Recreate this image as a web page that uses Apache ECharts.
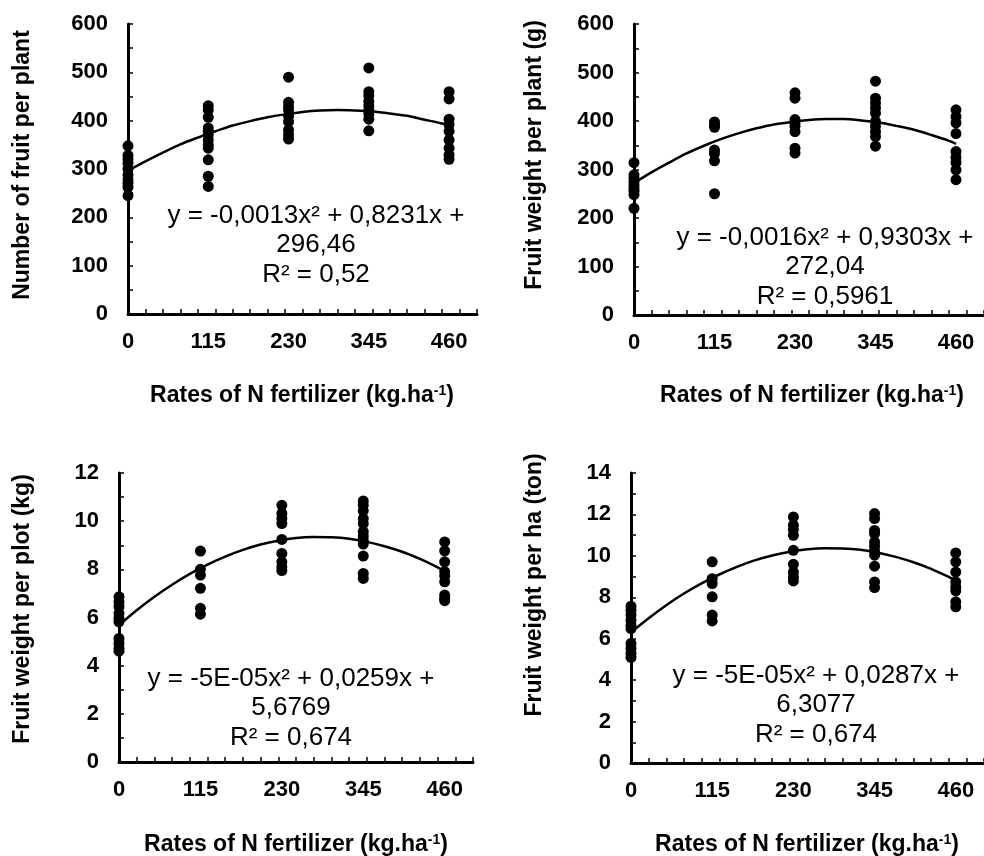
<!DOCTYPE html>
<html>
<head>
<meta charset="utf-8">
<title>N fertilizer response</title>
<script src="https://cdn.jsdelivr.net/npm/echarts@6/dist/echarts.min.js"></script>
<style>
  html, body { margin: 0; padding: 0; background: #fff; }
  #chart { width: 984px; height: 856px; }
</style>
</head>
<body>
<div id="chart"></div>
<script>
// rates of N fertilizer (kg/ha), also used as x tick labels
const nRates = [0, 115, 230, 345, 460];
const xTicks = [25, 50, 75, 100, 125, 150, 175, 200, 225, 250, 275, 300, 325, 350, 375, 400, 425, 450, 475, 500];

// observed values, one list per rate
const fruitNumber = [
  [348, 328, 320, 312, 300, 288, 278, 270, 262, 245],
  [431, 422, 407, 385, 378, 371, 360, 350, 343, 319, 285, 264],
  [490, 438, 429, 422, 409, 398, 381, 371, 362],
  [509, 460, 452, 440, 431, 422, 414, 403, 379],
  [460, 445, 403, 392, 378, 360, 343, 329, 320]
];
const weightPlant = [
  [314, 289, 282, 275, 268, 261, 255, 248, 220],
  [398, 392, 387, 340, 333, 318, 250],
  [458, 447, 403, 396, 389, 378, 344, 334],
  [482, 447, 437, 427, 416, 399, 389, 378, 368, 348],
  [423, 409, 396, 374, 337, 325, 314, 299, 279]
];
const weightPlot = [
  [6.86, 6.65, 6.45, 6.17, 5.96, 5.82, 5.13, 4.92, 4.72, 4.6],
  [8.76, 8.0, 7.76, 7.21, 6.38, 6.14],
  [10.66, 10.32, 10.11, 9.9, 9.24, 8.66, 8.31, 8.1, 7.95],
  [10.84, 10.66, 10.43, 10.11, 9.9, 9.56, 9.38, 9.21, 9.05, 8.55, 7.83, 7.62],
  [9.14, 8.77, 8.31, 7.9, 7.72, 7.48, 6.93, 6.79, 6.7]
];
const weightHa = [
  [7.57, 7.38, 7.14, 6.89, 6.65, 6.49, 5.77, 5.53, 5.29, 5.1],
  [9.71, 8.9, 8.66, 8.02, 7.14, 6.86],
  [11.88, 11.48, 11.27, 10.99, 10.27, 9.59, 9.22, 8.98, 8.79],
  [12.04, 11.8, 11.23, 11.07, 10.67, 10.46, 10.24, 10.03, 9.5, 8.74, 8.47],
  [10.14, 9.71, 9.22, 8.74, 8.5, 8.31, 7.78, 7.54]
];

// trend lines
const fitX = [0, 25, 50, 75, 100, 125, 150, 175, 200, 225, 250, 275, 300, 325, 350, 375, 400, 425, 450, 460];
const fruitNumberFit = [297, 316, 334, 351, 365, 378, 390, 399, 407, 413, 418, 421, 422, 421, 419, 415, 410, 402, 394, 390];
const weightPlantFit = [272, 294, 314, 333, 349, 363, 375, 385, 393, 398, 402, 404, 404, 401, 397, 390, 382, 371, 359, 353];
const weightPlotFit = [5.68, 6.3, 6.86, 7.36, 7.81, 8.2, 8.53, 8.81, 9.03, 9.19, 9.3, 9.34, 9.33, 9.27, 9.14, 8.96, 8.73, 8.43, 8.08, 7.92];
const weightHaFit = [6.31, 6.99, 7.62, 8.18, 8.67, 9.1, 9.47, 9.78, 10.02, 10.2, 10.32, 10.37, 10.36, 10.29, 10.15, 9.95, 9.69, 9.37, 8.98, 8.8];

const yTitles = ["Number of fruit per plant", "Fruit weight per plant (g)", "Fruit weight per plot (kg)", "Fruit weight per ha (ton)"];
const equations = [
  ["y = -0,0013x² + 0,8231x +", "296,46", "R² = 0,52"],
  ["y = -0,0016x² + 0,9303x +", "272,04", "R² = 0,5961"],
  ["y = -5E-05x² + 0,0259x +", "5,6769", "R² = 0,674"],
  ["y = -5E-05x² + 0,0287x +", "6,3077", "R² = 0,674"]
];
const yMax = [600, 600, 12, 14];
const yStep = [100, 100, 2, 2];

const FONT = "'Liberation Sans', Arial, sans-serif";
const panels = [fruitNumber, weightPlant, weightPlot, weightHa];
const fits = [fruitNumberFit, weightPlantFit, weightPlotFit, weightHaFit];

// panel geometry
const grids = [
  { left: 128, top: 24, width: 349, height: 290 },
  { left: 634, top: 24, width: 354, height: 291 },
  { left: 119, top: 473, width: 354, height: 289 },
  { left: 631, top: 473, width: 356, height: 290 }
];
const yTitlePos = [[23, 165], [535, 155], [23, 609], [535, 585]];
const xTitlePos = [[302, 396], [812, 396], [296, 845], [807, 845]];
const eqPos = [[316, 245], [825, 267], [291, 708], [816, 705]];

const axisStyle = { color: "#000", width: 3 };

const xAxes = grids.map((g, i) => ({
  type: "value",
  gridIndex: i,
  min: 0,
  max: 500,
  interval: 25,
  axisLine: { show: true, onZero: false, lineStyle: axisStyle },
  axisTick: { show: true, inside: true, length: 5, customValues: xTicks, lineStyle: { color: "#000", width: 1.5 } },
  axisLabel: {
    customValues: nRates,
    margin: 17,
    color: "#000",
    fontFamily: FONT,
    fontWeight: "bold",
    fontSize: 22
  },
  splitLine: { show: false }
}));

const yAxes = grids.map((g, i) => ({
  type: "value",
  gridIndex: i,
  min: 0,
  max: yMax[i],
  interval: yStep[i],
  axisLine: { show: true, lineStyle: axisStyle },
  axisTick: { show: true, inside: true, length: 5, lineStyle: { color: "#000", width: 1.5 } },
  minorTick: { show: true, splitNumber: 2, length: 5, lineStyle: { color: "#000", width: 1.5 } },
  axisLabel: {
    margin: 20,
    color: "#000",
    fontFamily: FONT,
    fontWeight: "bold",
    fontSize: 22
  },
  splitLine: { show: false }
}));

const series = [];
panels.forEach((values, i) => {
  const points = [];
  values.forEach((col, r) => col.forEach(v => points.push([nRates[r], v])));
  series.push({
    type: "scatter",
    xAxisIndex: i,
    yAxisIndex: i,
    data: points,
    symbolSize: 11,
    clip: false,
    itemStyle: { color: "#000", opacity: 1 }
  });
  series.push({
    type: "line",
    xAxisIndex: i,
    yAxisIndex: i,
    data: fitX.map((x, k) => [x, fits[i][k]]),
    smooth: 0.3,
    showSymbol: false,
    clip: false,
    lineStyle: { color: "#000", width: 2.5 },
    z: 3
  });
});

const texts = [];
yTitles.forEach((t, i) => {
  texts.push({
    type: "text",
    x: yTitlePos[i][0],
    y: yTitlePos[i][1],
    rotation: Math.PI / 2,
    style: {
      text: t,
      fill: "#000",
      font: "bold 23px " + FONT,
      textAlign: "center",
      textVerticalAlign: "middle"
    }
  });
  texts.push({
    type: "text",
    x: xTitlePos[i][0],
    y: xTitlePos[i][1],
    style: {
      text: "Rates of N fertilizer (kg.ha{sup|-1})",
      fill: "#000",
      font: "bold 23px " + FONT,
      textAlign: "center",
      textVerticalAlign: "middle",
      rich: {
        sup: { fontSize: 14, fontWeight: "bold", fontFamily: FONT, verticalAlign: "top", fill: "#000" }
      }
    }
  });
  texts.push({
    type: "text",
    x: eqPos[i][0],
    y: eqPos[i][1],
    style: {
      text: equations[i].join("\n"),
      fill: "#000",
      font: "26px " + FONT,
      lineHeight: 29.5,
      textAlign: "center",
      textVerticalAlign: "middle"
    }
  });
});

const chart = echarts.init(document.getElementById("chart"));
chart.setOption({
  backgroundColor: "#fff",
  animation: false,
  grid: grids,
  xAxis: xAxes,
  yAxis: yAxes,
  series: series,
  graphic: texts
});
</script>
</body>
</html>
